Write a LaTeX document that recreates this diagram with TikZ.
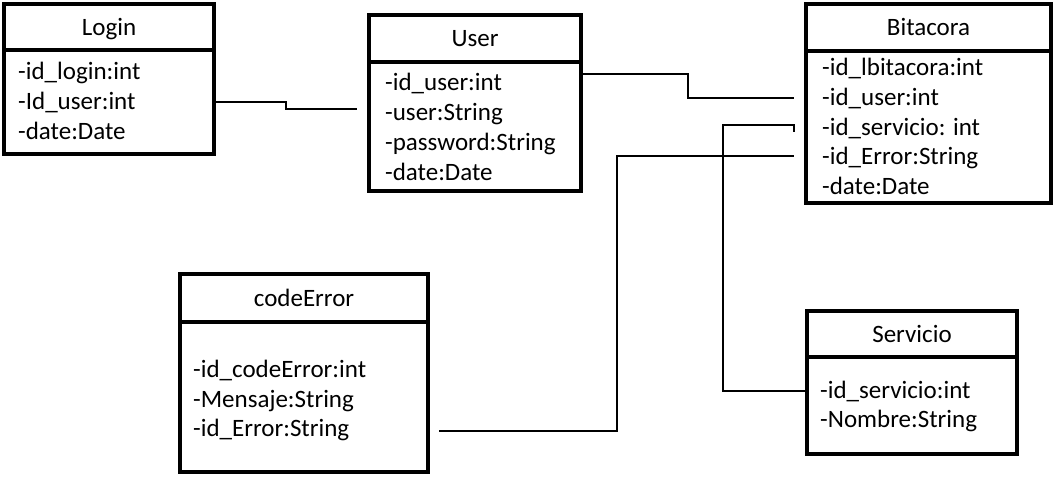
\documentclass[tikz,border=0pt]{standalone}
\usepackage{fontspec}
\setmainfont{Carlito}
\begin{document}
\begin{tikzpicture}[x=1pt,y=-1pt,
  umlbox/.style={draw=black, line width=4pt, rectangle, inner sep=0pt, outer sep=0pt, anchor=north west},
  sepline/.style={line width=4pt},
  conn/.style={line width=2pt},
  title/.style={font=\fontsize{25}{30}\selectfont, inner sep=0pt, anchor=center, text height=18pt, text depth=6pt},
  attr/.style={font=\fontsize{25}{30}\selectfont, inner sep=0pt, anchor=west, text height=18pt, text depth=6pt}
]
\useasboundingbox[fill=white] (0,0) rectangle (1057,478);

% Login
\node[umlbox, minimum width=210pt, minimum height=150pt] (login) at (4,4) {};
\draw[sepline] (login.west |- 0,50) -- (login.east |- 0,50);
\node[title] (loginT) at (109,30) {Login};
\node[attr] (login1) at (18,74) {-id\_login:int};
\node[attr] (login2) at (18,104) {-Id\_user:int};
\node[attr] (login3) at (18,134) {-date:Date};

% User
\node[umlbox, minimum width=212pt, minimum height=176pt] (user) at (369,15) {};
\draw[sepline] (user.west |- 0,62) -- (user.east |- 0,62);
\node[title] (userT) at (475,41) {User};
\node[attr] (user1) at (385,85) {-id\_user:int};
\node[attr] (user2) at (385,115) {-user:String};
\node[attr] (user3) at (385,145) {-password:String};
\node[attr] (user4) at (385,175) {-date:Date};

% Bitacora
\node[umlbox, minimum width=245pt, minimum height=199pt] (bit) at (806,4) {};
\draw[sepline] (bit.west |- 0,51) -- (bit.east |- 0,51);
\node[title] (bitT) at (928.5,30) {Bitacora};
\node[attr] (bit1) at (822,70) {-id\_lbitacora:int};
\node[attr] (bit2) at (822,100) {-id\_user:int};
\node[attr] (bit3) at (822,130) {-id\_servicio: int};
\node[attr] (bit4) at (822,159) {-id\_Error:String};
\node[attr] (bit5) at (822,189) {-date:Date};

% codeError
\node[umlbox, minimum width=248pt, minimum height=198pt] (ce) at (180,274) {};
\draw[sepline] (ce.west |- 0,322) -- (ce.east |- 0,322);
\node[title] (ceT) at (304,300) {codeError};
\node[attr] (ce1) at (193,371) {-id\_codeError:int};
\node[attr] (ce2) at (193,401) {-Mensaje:String};
\node[attr] (ce3) at (193,430) {-id\_Error:String};

% Servicio
\node[umlbox, minimum width=210pt, minimum height=143pt] (serv) at (807,311) {};
\draw[sepline] (serv.west |- 0,357) -- (serv.east |- 0,357);
\node[title] (servT) at (912,336) {Servicio};
\node[attr] (serv1) at (820,392) {-id\_servicio:int};
\node[attr] (serv2) at (820,421) {-Nombre:String};

% free ends of connectors
\coordinate (cLU) at (357,109);
\coordinate (cUB) at (794,98);
\coordinate (cSB) at (794,132);
\coordinate (cEB) at (794,156);
\coordinate (cCE) at (439,431);

% connectors
\draw[conn] (login.east |- 0,102) -- (286,102) |- (cLU);
\draw[conn] (user.east |- 0,74) -- (688,74) |- (cUB);
\draw[conn] (serv.west |- 0,391) -- (723,391) |- (794,125) -- (cSB);
\draw[conn] (cCE) -- (617,431) |- (cEB);
\end{tikzpicture}
\end{document}
